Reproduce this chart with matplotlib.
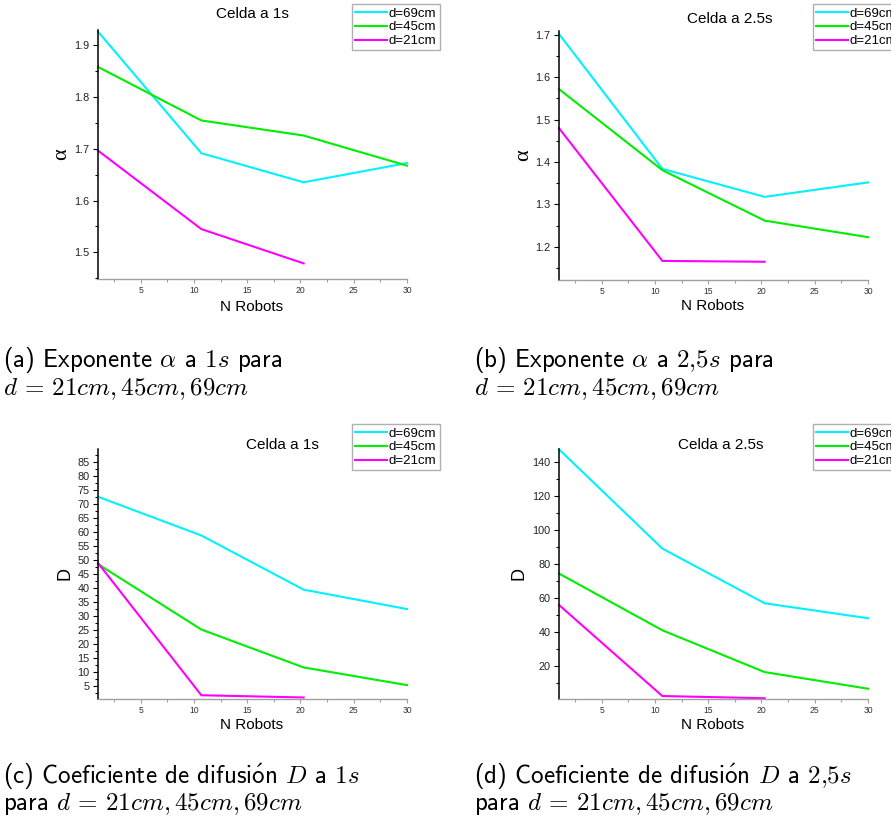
import matplotlib.pyplot as plt
from matplotlib.ticker import MultipleLocator, FormatStrFormatter

W, H = 891, 825

n_robots = [1, 10.7, 20.3, 30]

alpha_1s_69 = [1.925, 1.691, 1.635, 1.672]
alpha_1s_45 = [1.857, 1.754, 1.725, 1.667]
alpha_1s_21 = [1.696, 1.545, 1.479]

alpha_25s_69 = [1.702, 1.384, 1.318, 1.352]
alpha_25s_45 = [1.572, 1.381, 1.262, 1.223]
alpha_25s_21 = [1.480, 1.167, 1.165]

D_1s_69 = [72.5, 58.7, 39.4, 32.5]
D_1s_45 = [48.5, 25.2, 11.7, 5.4]
D_1s_21 = [48.9, 1.8, 1.0]

D_25s_69 = [147.7, 89.3, 57.1, 48.3]
D_25s_45 = [74.6, 41.2, 16.6, 6.8]
D_25s_21 = [56.1, 2.5, 1.2]

labels = ['d=69cm', 'd=45cm', 'd=21cm']
colors = ['#00F2FF', '#00EE00', '#FF00FF']

plt.rcParams['mathtext.fontset'] = 'cm'
SANS = 'Liberation Sans'
CAP = 'cmss10'


def px_axes(fig, l, t, r, b):
    return fig.add_axes([l / W, 1 - b / H, (r - l) / W, (b - t) / H])


def ftext(fig, x, y, s, **kw):
    return fig.text(x / W, 1 - y / H, s, **kw)


def panel(fig, rect, series, ylim, ymaj, ymin, yfmt, title, title_xy,
          ylab, ylab_xy, ylab_font, ylab_size, xlab_xy, leg_xy):
    ax = px_axes(fig, *rect)
    for (y, c, lab) in zip(series, colors, labels):
        ax.plot(n_robots[:len(y)], y, color=c, lw=1.5, label=lab,
                solid_joinstyle='miter', clip_on=False)
    ax.set_xlim(1, 30)
    ax.set_ylim(*ylim)
    ax.xaxis.set_major_locator(MultipleLocator(5))
    ax.xaxis.set_minor_locator(MultipleLocator(2.5))
    ax.yaxis.set_major_locator(MultipleLocator(ymaj))
    ax.yaxis.set_minor_locator(MultipleLocator(ymin))
    ax.yaxis.set_major_formatter(FormatStrFormatter(yfmt))
    for s in ('top', 'right'):
        ax.spines[s].set_visible(False)
    ax.spines['left'].set_color('black')
    ax.spines['left'].set_linewidth(1.1)
    ax.spines['bottom'].set_color('#a0a0a0')
    ax.spines['bottom'].set_linewidth(1.0)
    ax.tick_params(axis='y', which='major', direction='out', length=3.5,
                   width=0.8, color='black', pad=2.5, labelsize=7.8,
                   labelcolor='#222222')
    ax.tick_params(axis='y', which='minor', direction='out', length=2,
                   width=0.8, color='black')
    ax.tick_params(axis='x', which='major', direction='out', length=3,
                   width=0.8, color='#a0a0a0', pad=2, labelsize=6.2,
                   labelcolor='#333333')
    ax.tick_params(axis='x', which='minor', direction='out', length=2,
                   width=0.8, color='#a0a0a0')
    for t in ax.get_xticklabels() + ax.get_yticklabels():
        t.set_fontfamily(SANS)

    ftext(fig, *title_xy, title, ha='center', va='center', fontsize=11,
          family=SANS)
    ftext(fig, *ylab_xy, ylab, ha='center', va='center', rotation=90,
          fontsize=ylab_size, family=ylab_font)
    ftext(fig, *xlab_xy, 'N Robots', ha='center', va='center', fontsize=11,
          family=SANS)

    leg = ax.legend(loc='upper left',
                    bbox_to_anchor=(leg_xy[0] / W, 1 - leg_xy[1] / H),
                    bbox_transform=fig.transFigure, fancybox=False,
                    edgecolor='#b0b0b0', framealpha=1, borderaxespad=0,
                    borderpad=0.25, handlelength=2.4, handletextpad=0.15,
                    labelspacing=0.12, prop={'family': SANS, 'size': 9.5})
    leg.get_frame().set_linewidth(1.0)
    return ax


fig = plt.figure(figsize=(W / 100, H / 100), dpi=100)

panel(fig, (98, 30, 407, 279), [alpha_1s_69, alpha_1s_45, alpha_1s_21],
      (1.449, 1.928), 0.1, 0.05, '%.1f', 'Celda a 1s', (252, 14),
      '\u03b1', (62, 154), 'Liberation Serif', 16, (252, 307), (352, 4))
panel(fig, (559, 31, 868, 280), [alpha_25s_69, alpha_25s_45, alpha_25s_21],
      (1.122, 1.709), 0.1, 0.05, '%.1f', 'Celda a 2.5s', (730, 19),
      '\u03b1', (524, 155), 'Liberation Serif', 16, (713, 306), (813, 4))
panel(fig, (98, 449, 407, 699), [D_1s_69, D_1s_45, D_1s_21],
      (0.46, 89.5), 5, 2.5, '%d', 'Celda a 1s', (282, 445),
      'D', (65, 573), SANS, 13, (252, 725), (352, 424))
panel(fig, (559, 449, 868, 699), [D_25s_69, D_25s_45, D_25s_21],
      (0.75, 147.9), 20, 10, '%d', 'Celda a 2.5s', (721, 445),
      'D', (519, 573), SANS, 13, (713, 725), (813, 424))

# captions (ó drawn through mathtext, cmss10 has no accented glyphs)
o_acute = r'$\acute{\mathsf{o}}$'
caps = [
    (3, 367, r'(a) Exponente $\alpha$ a $1s$ para'),
    (3, 395, r'$d \,=\, 21cm, 45cm, 69cm$'),
    (474, 367, r'(b) Exponente $\alpha$ a $2{,}5s$ para'),
    (474, 395, r'$d \,=\, 21cm, 45cm, 69cm$'),
    (3, 783, r'(c) Coeficiente de difusi' + o_acute + r'n $D$ a $1s$'),
    (3, 810, r'para $d \,=\, 21cm, 45cm, 69cm$'),
    (474, 783, r'(d) Coeficiente de difusi' + o_acute + r'n $D$ a $2{,}5s$'),
    (474, 810, r'para $d \,=\, 21cm, 45cm, 69cm$'),
]
for x, y, s in caps:
    ftext(fig, x, y, s, ha='left', va='baseline', fontsize=18, family=CAP)

fig.savefig('out.png', dpi=100)
